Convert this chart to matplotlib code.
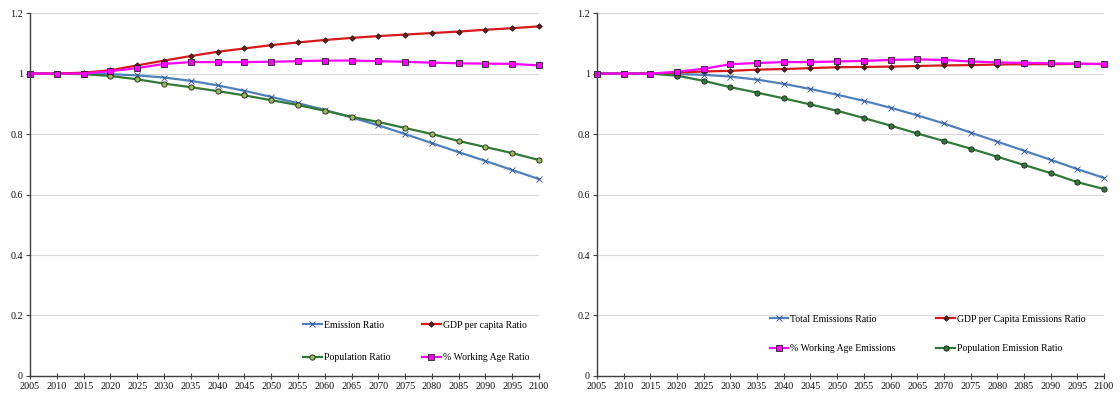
import numpy as np
import matplotlib as mpl
mpl.use('Agg')
import matplotlib.pyplot as plt
from matplotlib.ticker import FuncFormatter

plt.rcParams['font.family'] = ['Liberation Serif', 'DejaVu Serif']

years = list(range(2005, 2101, 5))

# left panel
emission_ratio = [1.000, 1.000, 1.000, 0.998, 0.994, 0.987, 0.976, 0.961, 0.943, 0.923,
                  0.902, 0.880, 0.855, 0.829, 0.800, 0.770, 0.740, 0.711, 0.681, 0.651]
gdp_ratio = [1.000, 1.000, 1.003, 1.011, 1.027, 1.043, 1.058, 1.072, 1.083, 1.094,
             1.103, 1.111, 1.118, 1.124, 1.129, 1.134, 1.139, 1.145, 1.150, 1.156]
population_ratio = [1.000, 1.000, 0.998, 0.992, 0.981, 0.967, 0.955, 0.942, 0.928, 0.912,
                    0.896, 0.877, 0.857, 0.840, 0.820, 0.800, 0.777, 0.757, 0.737, 0.714]
working_age_ratio = [1.000, 1.000, 1.000, 1.008, 1.018, 1.032, 1.038, 1.038, 1.038, 1.039,
                     1.041, 1.043, 1.043, 1.041, 1.039, 1.036, 1.034, 1.033, 1.032, 1.027]

# right panel
total_emissions = [1.000, 1.000, 1.000, 0.998, 0.996, 0.990, 0.980, 0.966, 0.949, 0.930,
                   0.910, 0.887, 0.862, 0.835, 0.805, 0.775, 0.745, 0.715, 0.684, 0.655]
gdp_emissions = [1.000, 1.000, 1.000, 1.003, 1.007, 1.009, 1.013, 1.015, 1.018, 1.021,
                 1.022, 1.023, 1.025, 1.027, 1.028, 1.030, 1.031, 1.031, 1.032, 1.032]
working_age_emissions = [1.000, 1.000, 1.000, 1.006, 1.016, 1.031, 1.035, 1.038, 1.038, 1.040,
                         1.042, 1.045, 1.047, 1.045, 1.040, 1.037, 1.035, 1.034, 1.033, 1.031]
population_emissions = [1.000, 1.000, 1.000, 0.993, 0.976, 0.955, 0.937, 0.918, 0.898, 0.877,
                        0.853, 0.828, 0.802, 0.777, 0.752, 0.725, 0.698, 0.671, 0.641, 0.618]

blue = '#4F81BD'
red = '#D7191C'
green = '#31793B'
magenta = '#FF00FF'

fig = plt.figure(figsize=(11.2, 3.97), dpi=100)
ax1 = fig.add_axes([0.0268, 0.053, 0.4545, 0.914])
ax2 = fig.add_axes([0.533, 0.053, 0.4527, 0.914])


def style(ax):
    ax.set_xlim(2005, 2100)
    ax.set_ylim(0, 1.2)
    ax.set_xticks(years)
    ax.set_yticks(np.arange(0, 1.21, 0.2))
    ax.yaxis.set_major_formatter(FuncFormatter(lambda v, p: '%g' % round(v, 1)))
    ax.grid(axis='y', color='#d9d9d9', lw=0.8)
    ax.set_axisbelow(True)
    for s in ['top', 'right']:
        ax.spines[s].set_visible(False)
    for s in ['left', 'bottom']:
        ax.spines[s].set_linewidth(1.0)
        ax.spines[s].set_color('#404040')
    ax.tick_params(axis='both', labelsize=7.3, length=3, width=0.8, pad=2,
                   color='#404040', labelcolor='#111111')
    ax.tick_params(axis='x', direction='inout', length=4)


line_kw = dict(lw=1.6, mew=0.6, clip_on=False)
leg_kw = dict(ncol=2, frameon=False, fontsize=7, loc='lower left', handlelength=1.9,
              handletextpad=0.2, borderpad=0)

l1, = ax1.plot(years, emission_ratio, color=blue, marker='x', ms=4, mec='#34508a',
               label='Emission Ratio', **line_kw)
l2, = ax1.plot(years, population_ratio, color=green, marker='o', ms=3.8, mfc='#9BBB59',
               mec='#222222', label='Population Ratio', **line_kw)
l3, = ax1.plot(years, gdp_ratio, color=red, marker='D', ms=2.8, mfc='#7a1010',
               mec='#222222', label='GDP per capita Ratio', **line_kw)
l4, = ax1.plot(years, working_age_ratio, color=magenta, marker='s', ms=4, mfc=magenta,
               mec='#222222', label='% Working Age Ratio', **line_kw)
style(ax1)
ax1.legend(handles=[l1, l2, l3, l4], bbox_to_anchor=(0.527, 0.025),
           labelspacing=2.4, columnspacing=3.3, **leg_kw)

r1, = ax2.plot(years, total_emissions, color=blue, marker='x', ms=4, mec='#34508a',
               label='Total Emissions Ratio', **line_kw)
r3, = ax2.plot(years, gdp_emissions, color=red, marker='D', ms=2.8, mfc='#7a1010',
               mec='#222222', label='GDP per Capita Emissions Ratio', **line_kw)
r4, = ax2.plot(years, population_emissions, color=green, marker='o', ms=3.8, mfc=green,
               mec='#222222', label='Population Emission Ratio', **line_kw)
r2, = ax2.plot(years, working_age_emissions, color=magenta, marker='s', ms=4, mfc=magenta,
               mec='#222222', label='% Working Age Emissions', **line_kw)
style(ax2)
ax2.legend(handles=[r1, r2, r3, r4], bbox_to_anchor=(0.331, 0.05),
           labelspacing=2.1, columnspacing=4.2, **leg_kw)

plt.savefig('out.png', dpi=100)
plt.close()
